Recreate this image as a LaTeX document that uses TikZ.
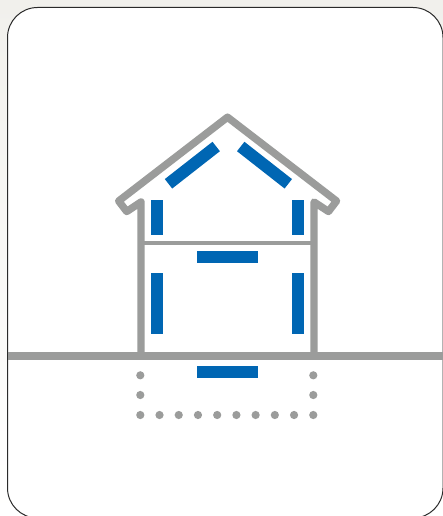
\documentclass[tikz,border=0pt]{standalone}
\definecolor{cardpaper}{HTML}{F1F0EC}
\definecolor{cardink}{HTML}{2A2A2A}
\definecolor{shellgray}{HTML}{9B9C9B}
\definecolor{insulblue}{HTML}{0066B3}

\begin{document}
\begin{tikzpicture}[x=1pt, y=-1pt,
    card/.style={draw=cardink, fill=white, line width=1pt, rounded corners=30pt},
    shell/.style={draw=shellgray, line width=7.4pt, line join=round, line cap=round},
    ceiling/.style={draw=shellgray, line width=4pt},
    ground/.style={draw=shellgray, line width=8pt},
    bar/.style={draw=insulblue, line width=12pt},
    footdot/.style={fill=shellgray},
  ]
  \clip (0, 0) rectangle (443, 516);
  \shade[top color=cardpaper, middle color=cardpaper!85!white, bottom color=white] (0, 0) rectangle (443, 516);
  \draw[card] (7.5, 7.5) rectangle (443, 518);

  % house outline with the eaves folded back to the walls
  \draw[shell] (141, 352) -- (141, 202) -- (126.7, 211.5) -- (118.7, 201) -- (227.5, 117.2)
    -- (336.5, 201) -- (328.5, 211.5) -- (314, 202) -- (314, 352);
  \draw[ceiling] (141, 243) -- (314, 243);
  \draw[ground] (7.5, 356) -- (443, 356);

  % insulation: roof
  \draw[bar] (216.2, 146.5) -- (168.5, 183.8);
  \draw[bar] (240.7, 146.5) -- (288.3, 183.8);
  % insulation: walls, upper and lower
  \foreach \x in {157, 298} {
    \draw[bar] (\x, 200) -- (\x, 235);
    \draw[bar] (\x, 273) -- (\x, 334);
  }
  % insulation: ceiling and floor
  \foreach \y in {257, 372} {
    \draw[bar] (197, \y) -- (258, \y);
  }

  % dotted foundation
  \foreach \i in {0,...,9} {
    \fill[footdot] (140.3 + 19.22*\i, 415) circle (4.1);
  }
  \foreach \x in {140.3, 313.3} {
    \foreach \y in {375.3, 395} {
      \fill[footdot] (\x, \y) circle (4.1);
    }
  }
\end{tikzpicture}
\end{document}
